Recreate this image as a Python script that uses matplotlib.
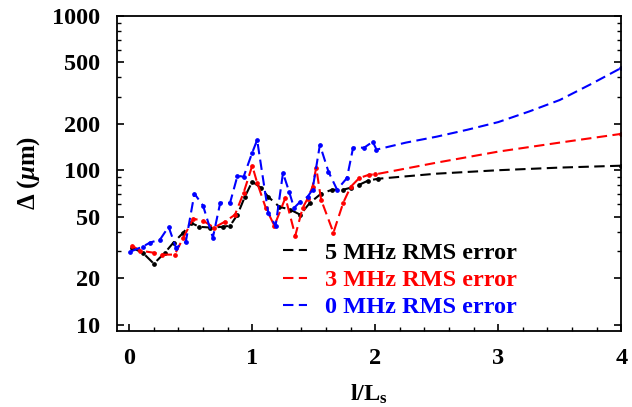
import matplotlib.pyplot as plt
from matplotlib.ticker import FixedLocator, LogLocator, MultipleLocator, NullFormatter

# l/Ls positions and Delta (um) values
x_black = [0.02, 0.11, 0.20, 0.29, 0.36, 0.44, 0.50, 0.57, 0.66, 0.76, 0.82, 0.88, 0.94,
           1.00, 1.07, 1.13, 1.22, 1.31, 1.39, 1.47, 1.56, 1.65, 1.74, 1.80, 1.87, 1.94,
           2.02, 2.5, 3.0, 3.5, 4.0]
y_black = [31.5, 29.2, 24.8, 29.2, 34, 39.4, 45.7, 43, 42.5, 43, 43.7, 51.5, 67.3,
           84.3, 77, 67.3, 58, 55.5, 51.5, 61.6, 70.5, 74.8, 74.8, 77, 80.5, 85.5,
           88, 95, 100, 104, 107]

x_red = [0.02, 0.09, 0.20, 0.27, 0.37, 0.44, 0.52, 0.60, 0.69, 0.78, 0.86, 0.93, 1.00,
         1.04, 1.11, 1.18, 1.27, 1.35, 1.41, 1.45, 1.49, 1.52, 1.56, 1.66, 1.74, 1.80,
         1.87, 1.95, 2.0, 2.5, 3.0, 3.5, 4.0]
y_red = [32.5, 30.1, 29.2, 28.4, 28.4, 36.6, 48.5, 47.1, 42.5, 46.5, 51.5, 71.5, 107,
         83, 57, 43.7, 66.4, 37.7, 57, 65.5, 78, 104, 64.4, 39.4, 61.6, 78,
         89, 93.5, 94, 112, 132, 151, 172]

x_blue = [0.01, 0.11, 0.17, 0.25, 0.32, 0.38, 0.46, 0.53, 0.60, 0.68, 0.74, 0.82, 0.88,
          0.93, 1.00, 1.04, 1.13, 1.19, 1.25, 1.30, 1.34, 1.39, 1.45, 1.49, 1.55, 1.62,
          1.69, 1.77, 1.82, 1.91, 1.98, 2.01, 2.25, 2.5, 2.75, 3.0, 3.25, 3.5, 3.75, 4.0]
y_blue = [29.7, 32, 34, 35.5, 43, 31.5, 34.4, 70.5, 59, 36.6, 61.6, 61.6, 92,
          90.8, 130, 157, 53, 43.7, 96, 72.6, 57, 62.5, 67.3, 74.8, 146, 97.7,
          74.8, 89, 140, 140, 153, 136, 151, 165, 183, 205, 240, 285, 360, 460]

labels = ["5 MHz RMS error", "3 MHz RMS error", "0 MHz RMS error"]
colors = ["black", "red", "blue"]

plt.rcParams["font.family"] = "Liberation Serif"
plt.rcParams["font.weight"] = "bold"
plt.rcParams["mathtext.fontset"] = "custom"
plt.rcParams["mathtext.rm"] = "Liberation Serif:bold"
plt.rcParams["mathtext.it"] = "Liberation Serif:italic:bold"
plt.rcParams["mathtext.bf"] = "Liberation Serif:bold"

fig = plt.figure(figsize=(6.32, 4.07), dpi=100)
ax = fig.add_axes([0.185, 0.187, 0.798, 0.774])

series = [(x_black, y_black), (x_red, y_red), (x_blue, y_blue)]
for (xs, ys), c, lab in zip(series, colors, labels):
    # markers only on the measured part (x <= ~2) and the end point
    marks = [i for i, v in enumerate(xs) if v <= 2.02] + [len(xs) - 1]
    ax.plot(xs, ys, color=c, lw=1.5, dashes=(5, 2.6), marker="o", ms=2.4,
            mec=c, mfc=c, markevery=marks, label=lab)

ax.set_yscale("log")
ax.set_xlim(-0.1, 4.0)
ax.set_ylim(9.1, 1000)

ax.xaxis.set_major_locator(FixedLocator([0, 1, 2, 3, 4]))
ax.xaxis.set_minor_locator(MultipleLocator(0.2))
ax.yaxis.set_major_locator(FixedLocator([10, 20, 50, 100, 200, 500, 1000]))
ax.yaxis.set_minor_locator(LogLocator(base=10, subs=range(2, 10)))
ax.yaxis.set_minor_formatter(NullFormatter())
ax.set_yticklabels(["10", "20", "50", "100", "200", "500", "1000"])
ax.set_xticklabels(["0", "1", "2", "3", "4"])

ax.tick_params(which="both", direction="in", right=True, top=False, labelsize=17.5)
ax.tick_params(axis="x", pad=12)
ax.tick_params(axis="y", pad=12)
ax.tick_params(which="major", length=5, width=1.2)
ax.tick_params(which="minor", length=3, width=1)
for s in ax.spines.values():
    s.set_linewidth(1.3)

ax.set_xlabel(r"l/L$_\mathrm{s}$", fontsize=17.5, fontweight="bold", labelpad=10)
ax.set_ylabel(r"Δ ($\mu$m)", fontsize=18, fontweight="bold", labelpad=7)

leg = ax.legend(loc="upper left", bbox_to_anchor=(0.329, 0.283), frameon=False,
                handlelength=1.0, handletextpad=0.75, labelspacing=0.22,
                borderpad=0, borderaxespad=0, prop={"weight": "bold", "size": 17.5})
for t, c in zip(leg.get_texts(), colors):
    t.set_color(c)
for h in leg.legend_handles:
    h.set_marker("")

fig.savefig("out.png", dpi=100)
